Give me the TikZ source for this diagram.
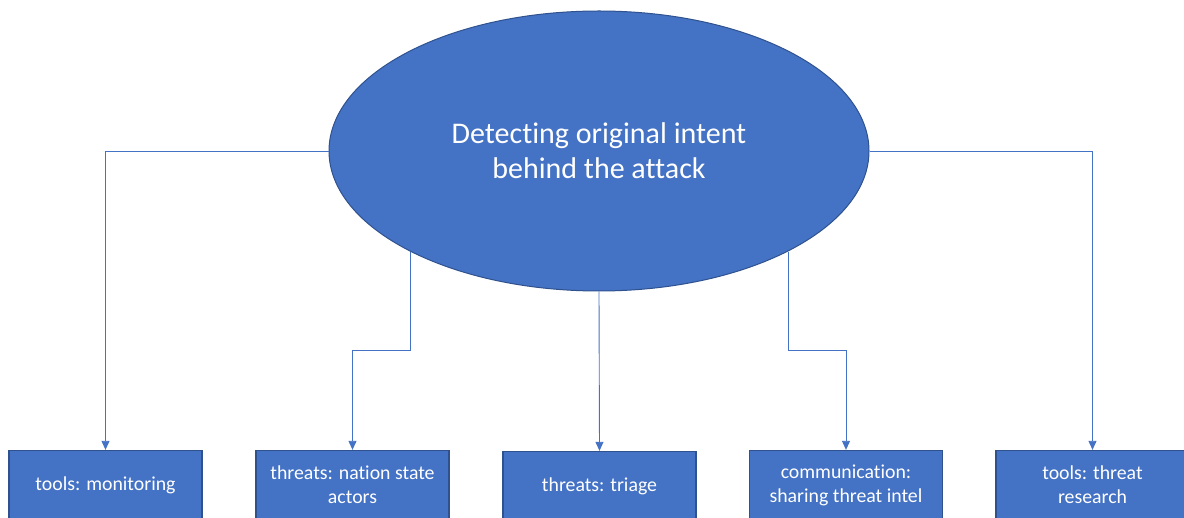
\documentclass[tikz,border=0pt]{standalone}
\usepackage{fontspec}
\setmainfont[Ligatures=NoCommon]{Carlito}
\usetikzlibrary{shapes.geometric,arrows.meta,calc}
\definecolor{fillblue}{HTML}{4472C4}
\definecolor{edgeblue}{HTML}{2F528F}
\definecolor{lineblue}{HTML}{4472C4}
\begin{document}
\begin{tikzpicture}[x=1pt,y=-1pt,
  bubble/.style={ellipse,draw=edgeblue,line width=1pt,fill=fillblue,text=white,
    minimum width=540pt,minimum height=280pt,inner sep=0pt,align=center,
    font=\fontsize{30}{35}\selectfont},
  leaf/.style={rectangle,draw=edgeblue,line width=1.3pt,fill=fillblue,text=white,
    minimum width=193pt,minimum height=69pt,inner sep=2pt,align=center,
    font=\fontsize{19.8}{24}\selectfont},
  conn/.style={draw=lineblue,line width=0.9pt,-{Triangle[width=8pt,length=9pt]}}]
\useasboundingbox (0,0) rectangle (1184,518);
\node[bubble] (ell) at (599,151) {Detecting original intent\\behind the attack};
\node[leaf] (b1) at (105.5,485) {tools: monitoring};
\node[leaf] (b2) at (352.5,485) {threats: nation state\\actors};
\node[leaf] (b3) at (599.5,486) {threats: triage};
\node[leaf] (b4) at (846,485) {communication:\\sharing threat intel};
\node[leaf] (b5) at (1092.5,485) {tools: threat\\research};
\draw[conn] (ell.west) -| (b1.north);
\draw[conn] (ell.208.2) |- ($(ell.208.2)!.5!(b2.north)$) -| (b2.north);
\draw[conn] (ell.south) -- (b3.north);
\draw[conn] (ell.-28.2) |- ($(ell.-28.2)!.5!(b4.north)$) -| (b4.north);
\draw[conn] (ell.east) -| (b5.north);
\end{tikzpicture}
\end{document}
